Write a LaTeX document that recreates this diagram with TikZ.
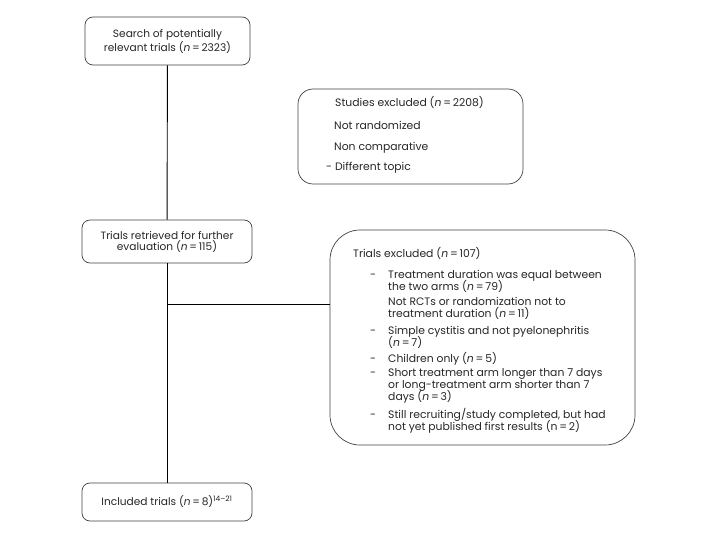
\documentclass[tikz,border=0pt]{standalone}
\usepackage{fontspec}
\setmainfont{Poppins}
\begin{document}
\begin{tikzpicture}[x=1pt,y=-1pt,
  box/.style={draw=black!75, line width=0.7pt, rounded corners=8pt, inner sep=0pt, align=center, text=black!85},
  txt/.style={anchor=base west, inner sep=0pt, text=black!85, font=\fontsize{10.8}{12}\selectfont},
  conn/.style={draw=black, line width=0.9pt}]
\useasboundingbox (0,0) rectangle (720,540);
\node[box, minimum width=165pt, minimum height=48pt, font=\fontsize{10.6}{14}\selectfont] (search) at (167.5,41)
  {Search of potentially\\relevant trials (\textit{n}\,=\,2323)};
\node[box, rounded corners=15pt, minimum width=225pt, minimum height=95pt] (studex) at (410.5,136.5) {};
\node[txt] (s1) at (335,107) {Studies excluded (\textit{n}\,=\,2208)};
\node[txt] (s2) at (334,130) {Not randomized};
\node[txt] (s3) at (334,151) {Non comparative};
\node[txt] (s4) at (326,171) {- Different topic};
\node[box, minimum width=170pt, minimum height=43pt, font=\fontsize{10.6}{11}\selectfont] (retr) at (167,241.5)
  {Trials retrieved for further\\evaluation (\textit{n}\,=\,115)};
\node[box, rounded corners=30pt, minimum width=305pt, minimum height=215pt] (trex) at (482.5,337.5) {};
\node[txt] (e0) at (353,257) {Trials excluded (\textit{n}\,=\,107)};
\node[txt] (d1) at (370,278) {-};
\node[txt] (e1) at (388,278) {Treatment duration was equal between};
\node[txt] (e1b) at (388,290) {the two arms (\textit{n}\,=\,79)};
\node[txt] (e2) at (388,305) {Not RCTs or randomization not to};
\node[txt] (e2b) at (388,317) {treatment duration (\textit{n}\,=\,11)};
\node[txt] (d3) at (370,334) {-};
\node[txt] (e3) at (388,334) {Simple cystitis and not pyelonephritis};
\node[txt] (e3b) at (388,346) {(\textit{n}\,=\,7)};
\node[txt] (d4) at (370,362) {-};
\node[txt] (e4) at (388,362) {Children only (\textit{n}\,=\,5)};
\node[txt] (d5) at (370,376) {-};
\node[txt] (e5) at (388,376) {Short treatment arm longer than 7 days};
\node[txt] (e5b) at (388,388) {or long-treatment arm shorter than 7};
\node[txt] (e5c) at (388,400) {days (\textit{n}\,=\,3)};
\node[txt] (d6) at (370,418) {-};
\node[txt] (e6) at (388,418) {Still recruiting/study completed, but had};
\node[txt] (e6b) at (388,430) {not yet published first results (n\,=\,2)};
\node[box, minimum width=170pt, minimum height=38pt, font=\fontsize{10.6}{12}\selectfont] (incl) at (167,502)
  {Included trials (\textit{n}\,=\,8)\textsuperscript{14--21}};
\coordinate (branch) at (167,304);
\draw[conn] (search) -- (retr);
\draw[conn] (retr) -- (incl);
\draw[conn] (branch) -- (trex.west |- branch);
\end{tikzpicture}
\end{document}
